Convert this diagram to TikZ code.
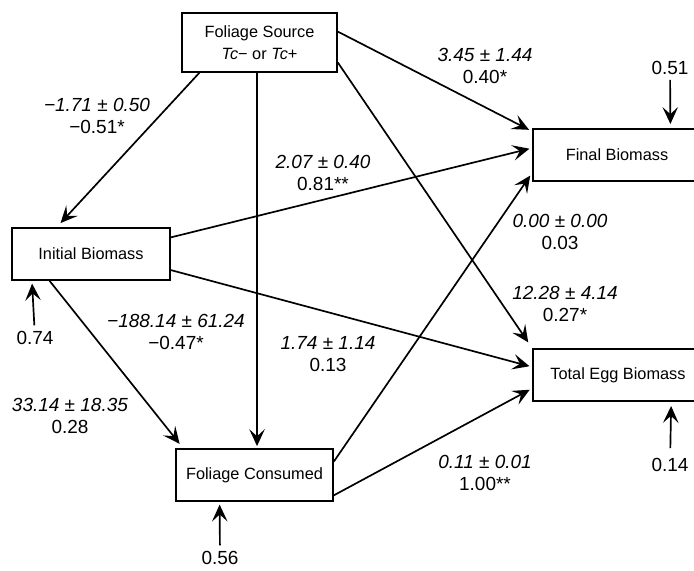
\documentclass[tikz,border=0pt]{standalone}
\usepackage{fontspec}
\setmainfont{Liberation Sans}
\usepackage{tikz}
\usetikzlibrary{arrows.meta}
\usetikzlibrary{calc}

\tikzset{
  varbox/.style={draw=black, line width=1.1pt, inner sep=0pt, align=center,
                 minimum height=1.3cm, font=\fontsize{11.6}{15.6}\selectfont},
  coef/.style={align=center, inner sep=0pt, font=\fontsize{13.5}{15.6}\selectfont},
  resid/.style={inner sep=0pt, font=\fontsize{13.5}{15.6}\selectfont}
}

\begin{document}
\begin{tikzpicture}[x=0.025cm, y=-0.025cm]
\useasboundingbox (0,0) rectangle (694,570);
\clip (0,0) rectangle (694,570);
\begin{scope}
    \node[varbox, minimum width=3.875cm, minimum height=1.475cm] (src) at (259.5,42.5) {Foliage Source\\\textit{Tc}− or \textit{Tc}+};
    \node[varbox, minimum width=3.95cm] (ini) at (91,254) {Initial Biomass};
    \node[varbox, minimum width=4.2cm] (fin) at (617,155) {Final Biomass};
    \node[varbox, minimum width=4.25cm] (egg) at (618,375) {Total Egg Biomass};
    \node[varbox, minimum width=3.925cm] (con) at (254.5,475) {Foliage Consumed};

    % path coefficients
    \node[coef] (csi) at (97,116) {\textit{−1.71 ± 0.50}\\−0.51*};
    \node[coef] (csf) at (485,66) {\textit{3.45 ± 1.44}\\0.40*};
    \node[coef] (cif) at (323,173) {\textit{2.07 ± 0.40}\\0.81**};
    \node[coef] (ccf) at (560,232) {\textit{0.00 ± 0.00}\\0.03};
    \node[coef] (cse) at (565,304) {\textit{12.28 ± 4.14}\\0.27*};
    \node[coef] (csc) at (176,332) {\textit{−188.14 ± 61.24}\\−0.47*};
    \node[coef] (cie) at (328,354) {\textit{1.74 ± 1.14}\\0.13};
    \node[coef] (cic) at (70,416) {\textit{33.14 ± 18.35}\\0.28};
    \node[coef] (cce) at (485,473) {\textit{0.11 ± 0.01}\\1.00**};

    % residuals
    \node[resid] (rini) at (35,338) {0.74};
    \node[resid] (rcon) at (220,558) {0.56};
    \node[resid] (rfin) at (670,68) {0.51};
    \node[resid] (regg) at (670,465) {0.14};
\end{scope}

\begin{scope}[>={Stealth[length=12pt,width=11pt,inset=5pt]},
              every edge/.style={draw=black, line width=1.2pt, shorten >=2pt}]
    \path [->] ($(src.south west)!0.116!(src.south east)$) edge[shorten >=4pt] ($(ini.north west)!0.285!(ini.north east)$);
    \path [->] ($(src.south west)!0.484!(src.south east)$) edge[shorten >=1.5pt] ($(con.north west)!0.516!(con.north east)$);
    \path [->] ($(src.north east)!0.32!(src.south east)$) edge[shorten >=2.5pt] ($(fin.north west)!0.06!(fin.south west)$);
    \path [->] ($(src.north east)!0.83!(src.south east)$) edge[shorten >=5pt] (egg.north west);

    \path [->] ($(ini.north east)!0.19!(ini.south east)$) edge ($(fin.north west)!0.37!(fin.south west)$);
    \path [->] ($(ini.north east)!0.8!(ini.south east)$) edge ($(egg.north west)!0.35!(egg.south west)$);
    \path [->] ($(ini.south west)!0.24!(ini.south east)$) edge[shorten >=4pt] ($(con.north west)!0.05!(con.north east)$);

    \path [->] ($(con.north east)!0.25!(con.south east)$) edge[shorten >=2.5pt] ($(fin.north west)!0.83!(fin.south west)$);
    \path [->] ($(con.north east)!0.88!(con.south east)$) edge ($(egg.north west)!0.75!(egg.south west)$);

    \path [->] (rini) edge[shorten <=4pt] ($(ini.south west)!0.13!(ini.south east)$);
    \path [->] (rcon) edge[shorten <=4pt] ($(con.south west)!0.28!(con.south east)$);
    \path [->] (rfin) edge[shorten <=3.5pt, shorten >=3pt] ($(fin.north west)!0.815!(fin.north east)$);
    \path [->] (regg) edge[shorten <=7pt, shorten >=3pt] ($(egg.south west)!0.81!(egg.south east)$);
\end{scope}
\end{tikzpicture}
\end{document}
